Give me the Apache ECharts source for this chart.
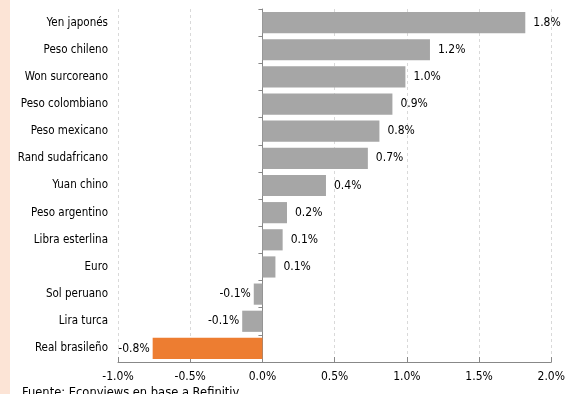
<!DOCTYPE html>
<html><head><meta charset="utf-8">
<script src="https://cdn.jsdelivr.net/npm/echarts@6/dist/echarts.min.js"></script>
<style>html,body{margin:0;padding:0;background:#fff}#c{width:568px;height:394px}</style>
</head><body><div id="c"></div>
<script>
const categories = ["Yen japonés","Peso chileno","Won surcoreano","Peso colombiano","Peso mexicano","Rand sudafricano","Yuan chino","Peso argentino","Libra esterlina","Euro","Sol peruano","Lira turca","Real brasileño"];
const values = [1.82,1.16,0.99,0.9,0.81,0.73,0.44,0.17,0.14,0.09,-0.06,-0.14,-0.76];
const highlight = "Real brasileño";
const xTicks = [-1.0,-0.5,0.0,0.5,1.0,1.5,2.0];
const sourceText = "Fuente: Econviews en base a Refinitiv";

const font = "DejaVu Sans Condensed";
const cats = categories.slice().reverse();
const vals = values.slice().reverse();
const chart = echarts.init(document.getElementById('c'));
chart.setOption({
  animation:false,
  backgroundColor:'#fff',
  textStyle:{fontFamily:font},
  graphic:[
    {type:'rect',shape:{x:0,y:0,width:10,height:394},style:{fill:'#fce4d6'}},
    {type:'text',left:22,top:387,style:{text:sourceText,font:'11.5px "DejaVu Sans"',fill:'#000'}}
  ],
  grid:{left:118,right:15,top:9,bottom:32},
  xAxis:{type:'value',min:xTicks[0],max:xTicks[xTicks.length-1],interval:0.5,
    axisLine:{show:true,onZero:false,lineStyle:{color:'#888'}},
    axisTick:{show:true,inside:true,length:5,lineStyle:{color:'#888'}},
    axisLabel:{margin:9,color:'#000',fontSize:12,fontFamily:font,formatter:v=>v.toFixed(1)+'%'},
    splitLine:{show:true,lineStyle:{color:'#d9d9d9',type:[3,3]}}
  },
  yAxis:[
    {type:'category',data:cats,position:'left',
      axisLine:{show:false,onZero:false},axisTick:{show:false},
      axisLabel:{margin:10,color:'#000',fontSize:11.5,fontFamily:font}},
    {type:'category',data:cats,position:'left',
      axisLine:{show:true,onZero:true,lineStyle:{color:'#888'}},
      axisTick:{show:true,length:4,lineStyle:{color:'#888'}},
      axisLabel:{show:false}}
  ],
  series:[{type:'bar',yAxisIndex:0,barCategoryGap:'22%',
    data:vals.map((v,i)=>({value:v,itemStyle:{color:cats[i]===highlight?'#ed7d31':'#a6a6a6'},
      label:{position:v<0?'left':'right',distance:v<0?3:8}})),
    label:{show:true,color:'#000',fontSize:12,fontFamily:font,formatter:p=>p.value.toFixed(1)+'%'}
  }]
});
</script></body></html>
